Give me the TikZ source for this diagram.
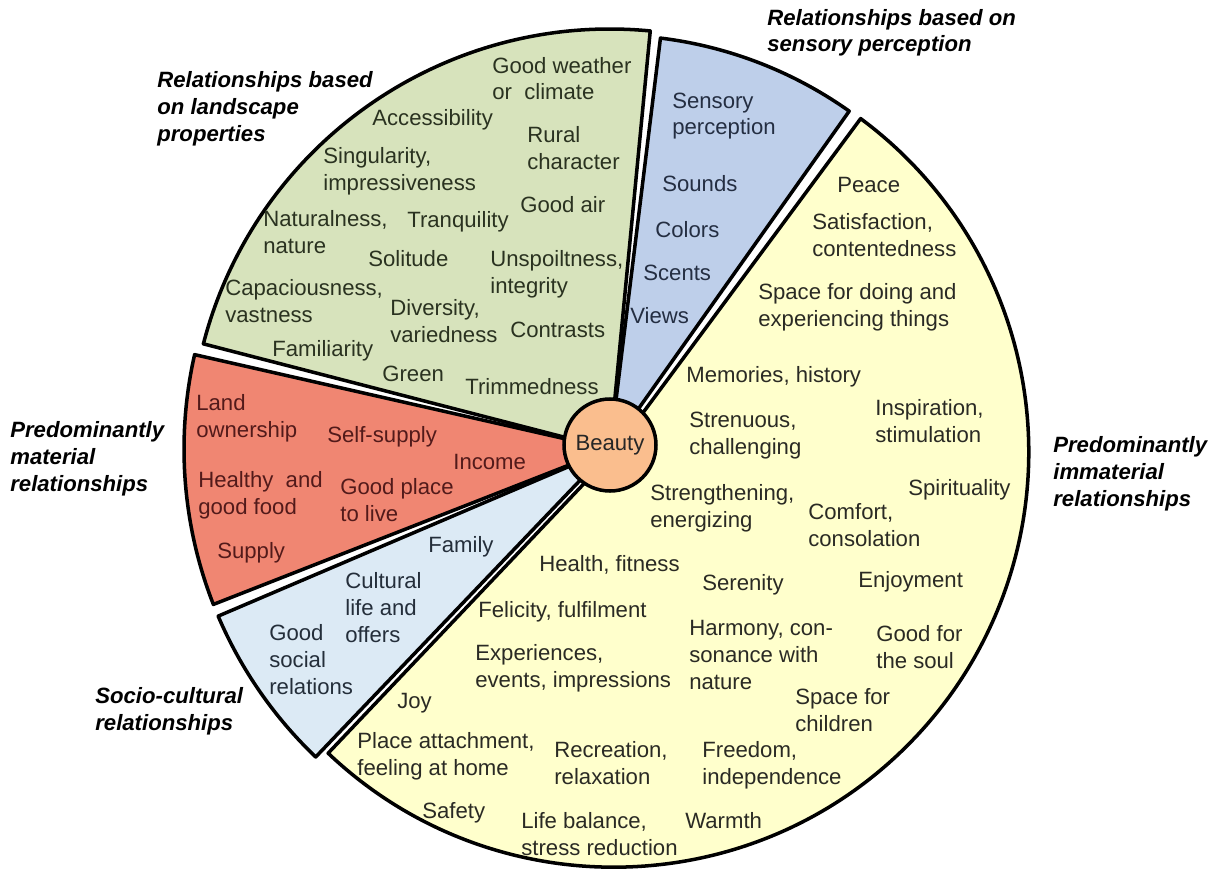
\documentclass[tikz,border=0pt]{standalone}
\usepackage{fontspec}
\setmainfont{Liberation Sans}
\newcommand\lblfont{\fontsize{12.6}{15.3}\selectfont}

\begin{document}
\begin{tikzpicture}[x=1cm,y=1cm,font=\lblfont,line cap=round,line join=round]
\definecolor{landc}{RGB}{215,227,188}
\definecolor{sensec}{RGB}{190,207,234}
\definecolor{immatc}{RGB}{255,255,204}
\definecolor{matc}{RGB}{240,134,114}
\definecolor{socc}{RGB}{220,234,245}
\definecolor{beautyc}{RGB}{250,190,142}
\definecolor{landtx}{RGB}{42,50,32}
\definecolor{sensetx}{RGB}{36,46,66}
\definecolor{mattx}{RGB}{82,26,26}
\definecolor{soctx}{RGB}{36,46,58}
\definecolor{immattx}{RGB}{42,42,36}

\tikzset{
sector/.style={draw=black, line width=2pt},
lbl/.style={anchor=base west, align=left, inner sep=0pt},
landlbl/.style={lbl, text=landtx},
senselbl/.style={lbl, text=sensetx},
matlbl/.style={lbl, text=mattx},
soclbl/.style={lbl, text=soctx},
immatlbl/.style={lbl, text=immattx},
grouptitle/.style={lbl, text=black, font=\lblfont\bfseries\itshape},
beautynode/.style={circle, draw=black, line width=2pt, fill=beautyc, minimum size=1.84cm, inner sep=0pt, text=black!85}
}

\useasboundingbox (-12.2,-8.42) rectangle (12.08,8.98);

% pie sectors
\draw[sector, fill=sensec] (0,0) -- (54.7:8.28) arc[start angle=54.7, end angle=83, radius=8.28] -- cycle;
\draw[sector, fill=landc] (0,0) -- (84.5:8.4) arc[start angle=84.5, end angle=165.5, radius=8.4] -- cycle;
\draw[sector, fill=matc] (0,0) -- (167.2:8.52) arc[start angle=167.2, end angle=201.4, radius=8.52] -- cycle;
\draw[sector, fill=socc] (0,0) -- (203.1:8.52) arc[start angle=203.1, end angle=226.3, radius=8.52] -- cycle;
\draw[sector, fill=immatc] (0.076,-0.064) -- ++(-133.5:8.3) arc[start angle=-133.5, end angle=53.5, radius=8.3] -- cycle;

\node[beautynode] (beauty) at (0,0.08) {Beauty};

% group titles
\node[grouptitle] (landtitle) at (-9.06,6.16) {Relationships based\\on landscape\\properties};
\node[grouptitle] (sensetitle) at (3.14,7.94) {Relationships based on\\sensory perception};
\node[grouptitle] (mattitle) at (-12.0,-0.84) {Predominantly\\material\\relationships};
\node[grouptitle] (immattitle) at (8.86,-1.14) {Predominantly\\immaterial\\relationships};
\node[grouptitle] (soctitle) at (-10.3,-5.62) {Socio-cultural\\relationships};

% landscape properties
\node[landlbl] (weather) at (-2.36,6.98) {Good weather\\or\ \ climate};
\node[landlbl] (access) at (-4.76,6.46) {Accessibility};
\node[landlbl] (rural) at (-1.66,5.60) {Rural\\character};
\node[landlbl] (singular) at (-5.74,5.18) {Singularity,\\impressiveness};
\node[landlbl] (goodair) at (-1.80,4.74) {Good air};
\node[landlbl] (natural) at (-6.94,3.92) {Naturalness,\\nature};
\node[landlbl] (tranq) at (-4.06,4.44) {Tranquility};
\node[landlbl] (solitude) at (-4.84,3.66) {Solitude};
\node[landlbl] (unspoilt) at (-2.40,3.12) {Unspoiltness,\\integrity};
\node[landlbl] (capac) at (-7.70,2.54) {Capaciousness,\\vastness};
\node[landlbl] (divers) at (-4.40,2.14) {Diversity,\\variedness};
\node[landlbl] (contrasts) at (-2.00,2.24) {Contrasts};
\node[landlbl] (famil) at (-6.76,1.86) {Familiarity};
\node[landlbl] (greenery) at (-4.56,1.36) {Green};
\node[landlbl] (trimmed) at (-2.90,1.10) {Trimmedness};

% sensory perception
\node[senselbl] (sensory) at (1.24,6.28) {Sensory\\perception};
\node[senselbl] (sounds) at (1.04,5.14) {Sounds};
\node[senselbl] (colors) at (0.90,4.24) {Colors};
\node[senselbl] (scents) at (0.66,3.38) {Scents};
\node[senselbl] (views) at (0.40,2.52) {Views};

% material
\node[matlbl] (land) at (-8.28,0.24) {Land\\ownership};
\node[matlbl] (selfsupply) at (-5.66,0.14) {Self-supply};
\node[matlbl] (income) at (-3.14,-0.40) {Income};
\node[matlbl] (healthyfood) at (-8.24,-1.30) {Healthy\ \ and\\good food};
\node[matlbl] (goodplace) at (-5.40,-1.44) {Good place\\to live};
\node[matlbl] (supply) at (-7.86,-2.18) {Supply};

% socio-cultural
\node[soclbl] (family) at (-3.64,-2.06) {Family};
\node[soclbl] (cultural) at (-5.30,-3.86) {Cultural\\life and\\offers};
\node[soclbl] (social) at (-6.82,-4.90) {Good\\social\\relations};

% immaterial
\node[immatlbl] (peace) at (4.54,5.12) {Peace};
\node[immatlbl] (satisf) at (4.04,3.86) {Satisfaction,\\contentedness};
\node[immatlbl] (spacedoing) at (2.96,2.46) {Space for doing and\\experiencing things};
\node[immatlbl] (memories) at (1.52,1.34) {Memories, history};
\node[immatlbl] (inspir) at (5.30,0.14) {Inspiration,\\stimulation};
\node[immatlbl] (strenuous) at (1.58,-0.10) {Strenuous,\\challenging};
\node[immatlbl] (spirit) at (5.96,-0.92) {Spirituality};
\node[immatlbl] (strength) at (0.80,-1.56) {Strengthening,\\energizing};
\node[immatlbl] (comfort) at (3.96,-1.94) {Comfort,\\consolation};
\node[immatlbl] (health) at (-1.42,-2.44) {Health,\ fitness};
\node[immatlbl] (enjoy) at (4.96,-2.76) {Enjoyment};
\node[immatlbl] (serenity) at (1.84,-2.82) {Serenity};
\node[immatlbl] (felicity) at (-2.64,-3.36) {Felicity, fulfilment};
\node[immatlbl] (harmony) at (1.58,-4.80) {Harmony,\ con-\\sonance with\\nature};
\node[immatlbl] (goodsoul) at (5.32,-4.38) {Good for\\the soul};
\node[immatlbl] (experiences) at (-2.70,-4.76) {Experiences,\\events,\ impressions};
\node[immatlbl] (spacechild) at (3.70,-5.64) {Space for\\children};
\node[immatlbl] (joy) at (-4.26,-5.18) {Joy};
\node[immatlbl] (placeatt) at (-5.06,-6.52) {Place attachment,\\feeling at home};
\node[immatlbl] (recreation) at (-1.12,-6.70) {Recreation,\\relaxation};
\node[immatlbl] (freedom) at (1.84,-6.70) {Freedom,\\independence};
\node[immatlbl] (safety) at (-3.76,-7.38) {Safety};
\node[immatlbl] (lifebal) at (-1.78,-8.12) {Life balance,\\stress reduction};
\node[immatlbl] (warmth) at (1.50,-7.58) {Warmth};
\end{tikzpicture}
\end{document}
